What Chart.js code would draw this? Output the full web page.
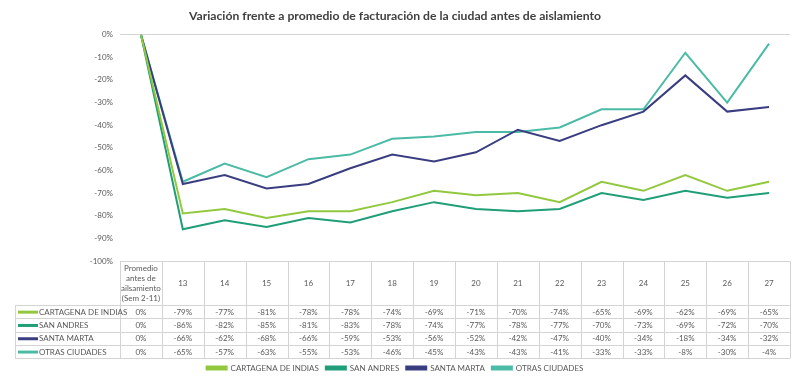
<!DOCTYPE html>
<html>
<head>
<meta charset="utf-8">
<script src="https://cdn.jsdelivr.net/npm/chart.js@4.4.0/dist/chart.umd.min.js"></script>
<style>
  body { margin: 0; background: #fff; }
  #wrap { width: 800px; height: 382px; }
</style>
</head>
<body>
<div id="wrap"><canvas id="chart"></canvas></div>
<script>
const labels = [
  ['Promedio', 'antes de', 'ailsamiento', '(Sem 2-11)'],
  '13', '14', '15', '16', '17', '18', '19', '20', '21', '22', '23', '24', '25', '26', '27'
];
const cartagena = [0, -79, -77, -81, -78, -78, -74, -69, -71, -70, -74, -65, -69, -62, -69, -65];
const sanAndres = [0, -86, -82, -85, -81, -83, -78, -74, -77, -78, -77, -70, -73, -69, -72, -70];
const santaMarta = [0, -66, -62, -68, -66, -59, -53, -56, -52, -42, -47, -40, -34, -18, -34, -32];
const otras = [0, -65, -57, -63, -55, -53, -46, -45, -43, -43, -41, -33, -33, -8, -30, -4];

const textColor = '#595959';
const gridColor = '#d4d4d4';
const font = 'Lato, "Open Sans", sans-serif';

function ds(label, data, color) {
  return {
    label: label,
    data: data,
    borderColor: color,
    backgroundColor: color,
    borderWidth: 2,
    pointRadius: 0,
    tension: 0
  };
}

// draws the data table under the plot
const tablePlugin = {
  id: 'dataTable',
  afterDraw(chart) {
    const ctx = chart.ctx;
    const xs = chart.scales.x;
    const area = chart.chartArea;
    const colW = xs.getPixelForValue(1) - xs.getPixelForValue(0);
    const left = xs.getPixelForValue(0) - colW / 2;
    const right = left + colW * labels.length;
    const top = area.bottom;
    const headH = 44;
    const rowH = 13.3;
    const labelLeft = 15;
    const rows = chart.data.datasets;
    const bottom = top + headH + rowH * rows.length;

    ctx.save();
    ctx.strokeStyle = gridColor;
    ctx.lineWidth = 1;
    ctx.beginPath();
    ctx.moveTo(left, top + 0.5);
    ctx.lineTo(right, top + 0.5);
    for (let r = 0; r <= rows.length; r++) {
      const y = Math.round(top + headH + rowH * r) + 0.5;
      ctx.moveTo(labelLeft, y);
      ctx.lineTo(right, y);
    }
    for (let i = 0; i <= labels.length; i++) {
      const cx = Math.round(left + colW * i) + 0.5;
      ctx.moveTo(cx, top);
      ctx.lineTo(cx, bottom);
    }
    ctx.moveTo(labelLeft + 0.5, top + headH);
    ctx.lineTo(labelLeft + 0.5, bottom);
    ctx.stroke();

    ctx.fillStyle = textColor;
    ctx.font = '8px ' + font;
    ctx.textAlign = 'center';
    ctx.textBaseline = 'middle';
    labels.forEach((lab, i) => {
      const cx = xs.getPixelForValue(i);
      const lines = Array.isArray(lab) ? lab : [lab];
      const lh = 10;
      const y0 = top + headH / 2 - (lines.length - 1) * lh / 2;
      lines.forEach((t, k) => ctx.fillText(t, cx, y0 + k * lh));
    });

    rows.forEach((d, r) => {
      const cy = top + headH + rowH * r + rowH / 2 + 0.5;
      ctx.textAlign = 'center';
      d.data.forEach((v, i) => {
        ctx.fillText(v + '%', xs.getPixelForValue(i), cy);
      });
      ctx.strokeStyle = d.borderColor;
      ctx.lineWidth = 3;
      ctx.beginPath();
      ctx.moveTo(labelLeft + 3, cy);
      ctx.lineTo(labelLeft + 23, cy);
      ctx.stroke();
      ctx.textAlign = 'left';
      ctx.fillText(d.label, labelLeft + 24, cy);
    });
    ctx.restore();
  }
};

new Chart(document.getElementById('chart'), {
  type: 'line',
  data: {
    labels: labels,
    datasets: [
      ds('CARTAGENA DE INDIAS', cartagena, '#92c83e'),
      ds('SAN ANDRES', sanAndres, '#1f9e78'),
      ds('SANTA MARTA', santaMarta, '#3a3d80'),
      ds('OTRAS CIUDADES', otras, '#4cbba6')
    ]
  },
  options: {
    responsive: true,
    maintainAspectRatio: false,
    animation: false,
    layout: { padding: { left: 0, right: 10, top: 0, bottom: 0 } },
    plugins: {
      title: {
        display: true,
        text: 'Variación frente a promedio de facturación de la ciudad antes de aislamiento',
        color: '#404040',
        font: { family: font, size: 12.2, weight: 'bold' },
        padding: { top: 9, bottom: 11 }
      },
      legend: {
        position: 'bottom',
        labels: {
          color: textColor,
          font: { family: font, size: 8 },
          boxWidth: 20,
          boxHeight: 3,
          padding: 7
        }
      },
      tooltip: { enabled: false }
    },
    scales: {
      x: {
        offset: true,
        grid: { display: false },
        border: { display: false },
        ticks: { display: false },
        afterFit(scale) { scale.height = 96; }
      },
      y: {
        min: -100,
        max: 0,
        ticks: {
          stepSize: 10,
          color: textColor,
          font: { family: font, size: 8 },
          padding: 7,
          callback: v => v + '%'
        },
        grid: {
          drawTicks: false,
          color: ctx => ctx.tick && ctx.tick.value === 0 ? gridColor : 'transparent'
        },
        border: { display: false },
        afterFit(scale) { scale.width = 120; }
      }
    }
  },
  plugins: [tablePlugin]
});
</script>
</body>
</html>
